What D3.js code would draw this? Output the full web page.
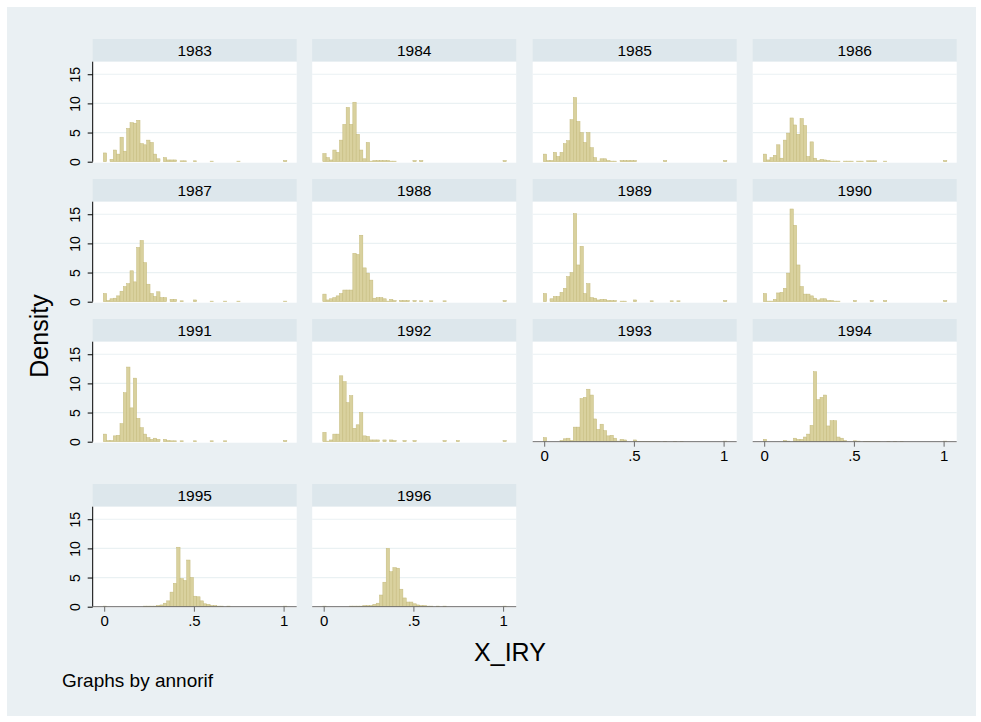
<!DOCTYPE html>
<html>
<head>
<meta charset="utf-8">
<script src="https://cdn.jsdelivr.net/npm/d3@7"></script>
<style>
  html, body { margin: 0; padding: 0; background: #ffffff; }
  svg { display: block; font-family: "Liberation Sans", Arial, Helvetica, sans-serif; }
</style>
</head>
<body>
<svg id="chart" width="981" height="722"></svg>
<script>
// Histogram of X_IRY by year (annorif): 55 equal-width bins, density per bin.
const years = [1983, 1984, 1985, 1986, 1987, 1988, 1989, 1990, 1991, 1992, 1993, 1994, 1995, 1996];

const binStart = -0.005;
const binWidth = 0.0186;

const dens1983 = [1.5,0,0.4,2.0,1.3,4.2,1.8,5.7,6.7,6.6, 7.1,3.1,2.9,3.7,3.3,1.3,0.5,0,0.7,0.3, 0.3,0.3,0,0.15,0.15,0,0,0.15,0,0, 0,0,0.1,0,0,0,0,0,0,0, 0.1,0,0,0,0,0,0,0,0,0, 0,0,0,0,0.2];
const dens1984 = [1.4,0.7,0.3,2.0,1.6,3.7,6.4,9.3,6.4,10.2, 4.7,2.0,0.5,3.3,0.1,0.2,0.2,0.2,0.2,0.2, 0.1,0.1,0,0,0,0,0,0.2,0,0.2, 0,0,0,0,0,0,0,0,0,0, 0,0,0,0,0,0,0,0,0,0, 0,0,0,0,0.2];
const dens1985 = [1.3,0.2,0.2,1.6,0.9,1.6,3.1,3.6,7.2,11.0, 6.9,5.0,3.3,5.0,2.4,0.7,0.1,0.5,0.5,0.2, 0.1,0.1,0,0.2,0.2,0.2,0.2,0.2,0,0, 0,0,0,0,0,0,0.2,0,0,0, 0,0,0,0,0,0,0,0,0,0, 0,0,0,0,0.2];
const dens1986 = [1.3,0.3,0.7,1.1,2.9,0.6,3.7,4.9,7.5,6.3, 4.7,7.4,6.2,0.9,3.4,0.6,0.2,0.4,0.3,0.2, 0.1,0.1,0.1,0,0.1,0.1,0.1,0,0.1,0.1, 0,0.15,0.15,0.15,0,0,0.1,0,0,0, 0,0,0,0,0,0,0,0,0,0, 0,0,0,0,0.2];
const dens1987 = [1.4,0.2,0.5,0.6,1.0,1.8,2.6,3.1,5.3,3.4, 9.3,10.5,6.7,3.0,1.4,0.9,1.7,0.7,0.7,0, 0.4,0.4,0,0.15,0,0,0,0.3,0,0, 0,0,0.1,0,0,0,0.1,0,0,0, 0.1,0,0,0,0,0,0,0,0,0, 0,0,0,0,0.1];
const dens1988 = [1.3,0.3,0.5,0.7,1.0,1.4,2.0,2.0,2.0,8.3, 8.1,11.4,5.8,4.9,3.7,0.6,0.7,0.7,0.5,0.1, 0.4,0.2,0,0.2,0.2,0.2,0,0.2,0,0.15, 0,0,0.15,0,0,0,0.15,0,0,0, 0,0,0,0,0,0,0,0,0,0, 0,0,0,0,0.2];
const dens1989 = [1.4,0,0.5,0.9,0.9,1.6,2.3,4.3,5.0,15.1, 6.3,9.5,1.4,3.1,0.7,0.6,0.3,0.4,0.4,0.2, 0.2,0.2,0,0.1,0.1,0,0,0.3,0,0, 0,0,0.15,0,0,0,0,0,0.15,0, 0.15,0,0,0,0,0,0,0,0,0, 0,0,0,0,0.2];
const dens1990 = [1.4,0.1,0.1,0.4,1.5,1.6,2.3,4.9,15.9,13.1, 6.3,2.6,1.3,1.3,1.0,0.6,0.3,0.5,0.5,0.2, 0.2,0.1,0.1,0,0,0,0,0.2,0,0, 0,0,0.2,0,0,0,0.2,0,0,0, 0,0,0,0,0,0,0,0,0,0, 0,0,0,0,0.2];
const dens1991 = [1.3,0.2,0.2,1.0,1.1,3.1,8.4,12.8,5.8,10.9, 4.0,2.4,1.3,0.7,0.4,0.6,0.4,0,0.4,0.2, 0.15,0.15,0,0.15,0,0,0,0.15,0,0, 0,0,0.15,0,0,0,0.15,0,0,0, 0,0,0,0,0,0,0,0,0,0, 0,0,0,0,0.2];
const dens1992 = [1.6,0.1,0.3,1.3,1.3,11.3,10.3,6.7,7.9,2.3, 2.9,5.0,1.0,0.9,0.3,0.3,0.3,0,0.3,0, 0.3,0.2,0,0,0.2,0,0,0.2,0,0, 0,0,0,0,0,0,0.2,0,0,0, 0.2,0,0,0,0,0,0,0,0,0, 0,0,0,0,0.2];
const dens1993 = [0.7,0,0,0,0,0.2,0.5,0.6,0.2,2.5, 2.5,7.4,7.6,9.0,8.0,3.9,2.1,3.0,1.9,1.0, 1.1,0.6,0.1,0.4,0.3,0,0,0.3,0.05,0.05, 0.05,0.05,0.05,0.05,0.05,0,0.05,0,0,0.05, 0,0.05,0,0,0,0,0,0,0,0, 0,0,0,0,0.1];
const dens1994 = [0.4,0,0,0,0,0,0.2,0.1,0,0.6, 0.4,0.4,0.8,1.3,2.8,12.0,7.2,7.6,8.0,2.7, 3.6,3.6,0.8,0.6,0.2,0,0,0.15,0.1,0, 0.05,0.05,0.05,0.05,0.05,0,0,0.05,0,0.05, 0,0.05,0,0,0,0,0,0,0,0, 0,0,0,0,0.1];
const dens1995 = [0.1,0,0,0,0,0,0,0,0,0, 0,0,0.1,0.1,0.1,0.1,0.2,0.3,0.6,1.0, 2.5,4.0,10.2,4.8,4.5,8.0,5.0,1.8,1.7,1.0, 0.5,0.4,0.2,0.2,0.1,0.1,0,0.1,0,0, 0,0,0,0,0,0,0,0,0,0, 0,0,0,0,0.1];
const dens1996 = [0.1,0,0,0,0,0,0,0,0.1,0.1, 0.1,0.1,0.2,0.2,0.2,0.4,0.6,2.0,4.2,10.0, 6.0,6.7,6.6,3.0,1.5,0.8,0.8,0.5,0.3,0.2, 0.2,0.1,0.1,0,0.1,0,0.1,0,0,0, 0,0,0,0,0,0,0,0,0,0, 0,0,0,0,0.1];

const densities = [dens1983, dens1984, dens1985, dens1986, dens1987, dens1988, dens1989,
                   dens1990, dens1991, dens1992, dens1993, dens1994, dens1995, dens1996];

const yTicks = [0, 5, 10, 15];
const xTicks = [0, 0.5, 1];
const xTickLabels = ["0", ".5", "1"];

// panels that carry an x axis (last row of each column)
const xAxisYears = [1993, 1994, 1995, 1996];

// ---- layout ----
const W = 981, H = 722;
const nCols = 4;
const colLeft = [92.7, 312.2, 532.7, 752.7];
const plotW = 204;
const headerTop = [39, 179, 319, 484];
const headerH = 22.7;
const plotH = 100;

const colors = {
  page: "#ffffff",
  region: "#eaf0f3",
  strip: "#dde7ec",
  plot: "#ffffff",
  grid: "#eaf1f3",
  barFill: "#d9d19e",
  barStroke: "#c4b97b",
  axis: "#000000",
  xAxis: "#6a6a6a",
  text: "#000000"
};

const svg = d3.select("#chart");

svg.append("rect").attr("x", 0).attr("y", 0).attr("width", W).attr("height", H).attr("fill", colors.page);
svg.append("rect").attr("x", 7).attr("y", 7).attr("width", 969).attr("height", 709).attr("fill", colors.region);

years.forEach((yr, idx) => {
  const col = idx % nCols;
  const row = Math.floor(idx / nCols);
  const left = colLeft[col];
  const top = headerTop[row];
  const plotTop = top + headerH;

  const x = d3.scaleLinear().domain([-0.0641, 1.073]).range([left, left + plotW]);
  const y = d3.scaleLinear().domain([0, 17.15]).range([plotTop + plotH, plotTop]);

  const g = svg.append("g");

  // strip header
  g.append("rect").attr("x", left).attr("y", top).attr("width", plotW).attr("height", headerH)
    .attr("fill", colors.strip);
  g.append("text").attr("x", left + plotW / 2).attr("y", top + headerH / 2 + 5.5)
    .attr("text-anchor", "middle").attr("font-size", 15.5).attr("fill", colors.text).text(yr);

  // plot area
  g.append("rect").attr("x", left).attr("y", plotTop).attr("width", plotW).attr("height", plotH + 1)
    .attr("fill", colors.plot);

  // gridlines
  g.selectAll("line.grid").data(yTicks.filter(t => t > 0)).enter().append("line")
    .attr("x1", left).attr("x2", left + plotW)
    .attr("y1", d => y(d)).attr("y2", d => y(d))
    .attr("stroke", colors.grid).attr("stroke-width", 1.2);

  // bars
  const bins = densities[idx].map((v, i) => ({
    x0: binStart + i * binWidth,
    x1: binStart + (i + 1) * binWidth,
    v: v
  })).filter(b => b.v > 0);

  g.selectAll("rect.bar").data(bins).enter().append("rect")
    .attr("class", "bar")
    .attr("x", d => x(d.x0))
    .attr("width", d => x(d.x1) - x(d.x0))
    .attr("y", d => y(d.v))
    .attr("height", d => y(0) - y(d.v))
    .attr("fill", colors.barFill)
    .attr("stroke", colors.barStroke)
    .attr("stroke-width", 0.5);

  // y axis (first column only)
  if (col === 0) {
    const yAxis = d3.axisLeft(y).tickValues(yTicks).tickSize(5).tickPadding(4)
      .tickFormat(d3.format("d"));
    const ag = g.append("g").attr("transform", `translate(${left},0)`).call(yAxis);
    ag.select(".domain").attr("d", `M0,${plotTop}V${y(0)}`).attr("stroke", colors.axis);
    ag.selectAll(".tick line").attr("stroke", colors.axis);
    ag.selectAll(".tick text")
      .attr("font-size", 14).attr("fill", colors.text)
      .attr("font-family", "Liberation Sans, Arial, sans-serif")
      .attr("text-anchor", "middle")
      .attr("x", 0).attr("dy", 0)
      .attr("transform", "translate(-13,0) rotate(-90)")
      .attr("y", 0);
  }

  // x axis (bottom panel of each column)
  if (xAxisYears.includes(yr)) {
    const xAxis = d3.axisBottom(x).tickValues(xTicks).tickSize(5).tickPadding(4)
      .tickFormat((d, i) => xTickLabels[i]);
    const ag = g.append("g").attr("transform", `translate(0,${y(0)})`).call(xAxis);
    ag.select(".domain").attr("d", `M${left},0H${left + plotW}`).attr("stroke", colors.xAxis);
    ag.selectAll(".tick line").attr("stroke", colors.xAxis);
    ag.selectAll(".tick text").attr("font-size", 15).attr("fill", colors.text)
      .attr("font-family", "Liberation Sans, Arial, sans-serif");
  }
});

// overall titles
svg.append("text").attr("transform", "translate(48,336) rotate(-90)")
  .attr("text-anchor", "middle").attr("font-size", 25).attr("fill", colors.text).text("Density");
svg.append("text").attr("x", 510).attr("y", 661)
  .attr("text-anchor", "middle").attr("font-size", 25).attr("fill", colors.text).text("X_IRY");
svg.append("text").attr("x", 62).attr("y", 687)
  .attr("font-size", 19).attr("fill", colors.text).text("Graphs by annorif");
</script>
</body>
</html>
